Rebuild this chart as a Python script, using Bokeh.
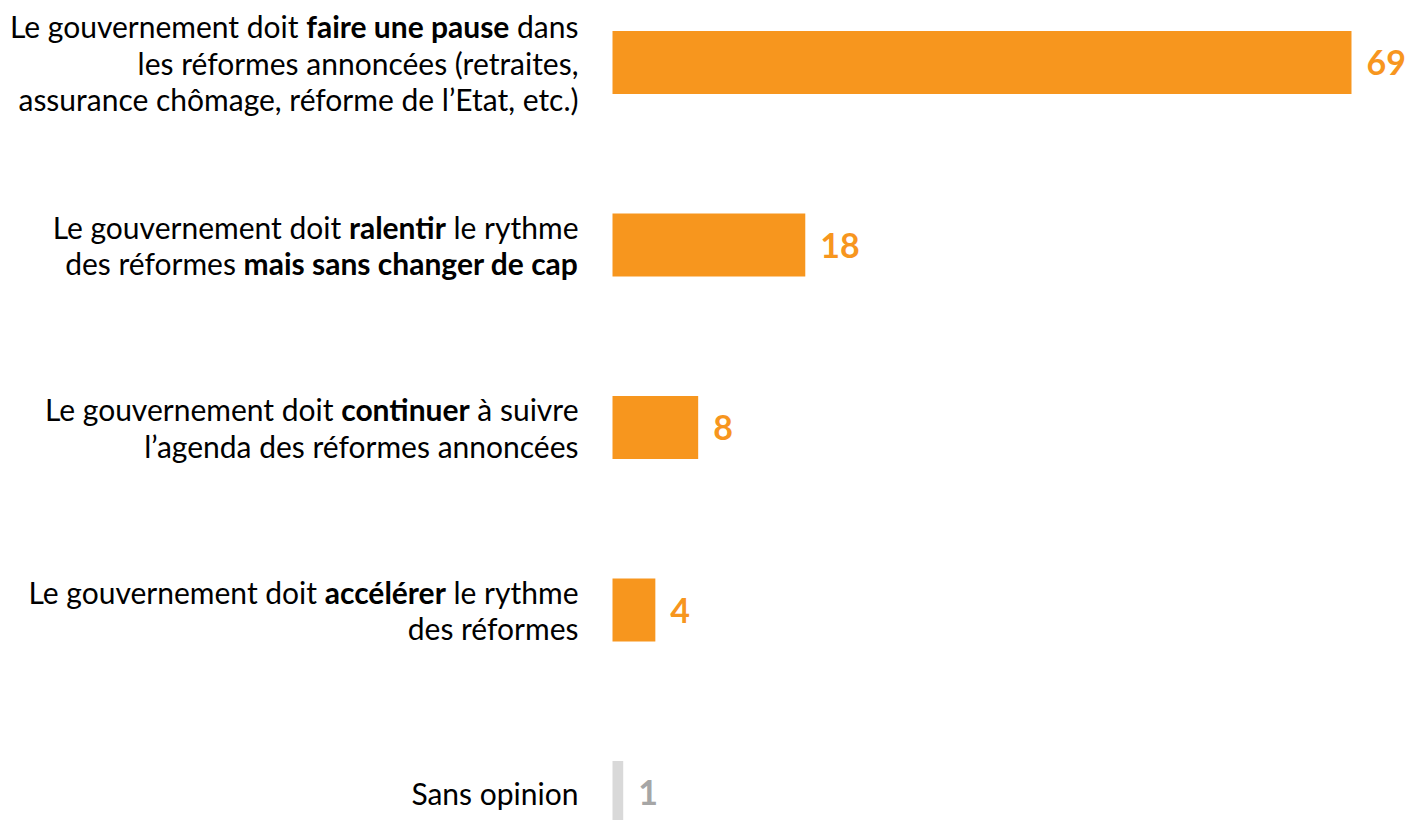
from bokeh.plotting import figure
from bokeh.models import ColumnDataSource, Range1d, CustomJS
from bokeh.core.properties import value, field
from bokeh.document import Document
from bokeh.embed import file_html
from bokeh.resources import INLINE

# ---- data ----
categories = [
    "Le gouvernement doit faire une pause dans les réformes annoncées (retraites, assurance chômage, réforme de l’Etat, etc.)",
    "Le gouvernement doit ralentir le rythme des réformes mais sans changer de cap",
    "Le gouvernement doit continuer à suivre l’agenda des réformes annoncées",
    "Le gouvernement doit accélérer le rythme des réformes",
    "Sans opinion",
]
values = [69, 18, 8, 4, 1]
value_labels = ["69", "18", "8", "4", "1"]
# label lines, each made of (text, bold) segments
label_lines = [
    [[("Le gouvernement doit", False), ("faire une pause", True), ("dans", False)],
     [("les réformes annoncées (retraites,", False)],
     [("assurance chômage, réforme de l’Etat, etc.)", False)]],
    [[("Le gouvernement doit", False), ("ralentir", True), ("le rythme", False)],
     [("des réformes", False), ("mais sans changer de cap", True)]],
    [[("Le gouvernement doit", False), ("continuer", True), ("à suivre", False)],
     [("l’agenda des réformes annoncées", False)]],
    [[("Le gouvernement doit", False), ("accélérer", True), ("le rythme", False)],
     [("des réformes", False)]],
    [[("Sans opinion", False)]],
]
bar_colors = ["#F7961E", "#F7961E", "#F7961E", "#F7961E", "#D9D9D9"]
label_colors = ["#F7961E", "#F7961E", "#F7961E", "#F7961E", "#A6A6A6"]

# ---- style constants ----
FONT = "Lato"
LBL_SIZE = 30
VAL_SIZE = 34
LINE_H = 36.5
LABEL_GAP = 34  # px between label right edge and bar start

W, H = 1405, 820
px_per_unit = 10.71
x0_px = 612
x_start = -x0_px / px_per_unit
x_end = (W - x0_px) / px_per_unit
spacing = 182.5
top_px = 62
bottom_px = H - 792
y_start = 4 + bottom_px / spacing
y_end = -top_px / spacing

p = figure(width=W, height=H, output_backend="svg", toolbar_location=None,
           x_range=Range1d(x_start, x_end), y_range=Range1d(y_start, y_end),
           min_border=0, outline_line_color=None, background_fill_color="white",
           border_fill_color="white")
p.axis.visible = False
p.grid.visible = False

idx = list(range(len(categories)))
bar_src = ColumnDataSource(dict(y=idx, right=values, color=bar_colors,
                                lab=value_labels, lcol=label_colors))
p.hbar(y="y", left=0, right="right", height=63 / spacing, color="color",
       source=bar_src, line_color=None)
p.text(x="right", y="y", text="lab", text_color="lcol", source=bar_src,
       x_offset=15, text_align="left", text_baseline="middle",
       text_font=value(FONT), text_font_style="bold",
       text_font_size=f"{VAL_SIZE}px")

# build label segments
seg = dict(x=[], y=[], text=[], weight=[], line=[], order=[], xo=[], yo=[])
line_id = 0
for ci, lines in enumerate(label_lines):
    n = len(lines)
    for li, segs in enumerate(lines):
        yo = (li - (n - 1) / 2) * LINE_H
        # estimated offsets (refined in the browser)
        off = 0.0
        est = []
        for t, b in reversed(segs):
            est.append(-LABEL_GAP - off)
            off += len(t) * LBL_SIZE * (0.5 if not b else 0.53) + LBL_SIZE * 0.25
        est = list(reversed(est))
        for si, (t, b) in enumerate(segs):
            seg["x"].append(0)
            seg["y"].append(ci)
            seg["text"].append(t)
            seg["weight"].append("bold" if b else "normal")
            seg["line"].append(line_id)
            seg["order"].append(si)
            seg["xo"].append(est[si])
            seg["yo"].append(yo)
        line_id += 1
lab_src = ColumnDataSource(seg)
p.text(x="x", y="y", text="text", source=lab_src, x_offset=field("xo"),
       y_offset=field("yo"), text_align="right", text_baseline="middle",
       text_font=value(FONT), text_font_style=field("weight"),
       text_font_size=f"{LBL_SIZE}px", text_color="#000000")

cb = CustomJS(args=dict(src=lab_src, size=LBL_SIZE, font=FONT, gap=LABEL_GAP), code="""
const c = document.createElement('canvas').getContext('2d');
const d = src.data;
const n = d.text.length;
const xo = new Array(n).fill(0);
const groups = {};
for (let i = 0; i < n; i++) { (groups[d.line[i]] = groups[d.line[i]] || []).push(i); }
c.font = 'normal ' + size + 'px ' + font;
const sp = c.measureText(' ').width;
for (const k in groups) {
  const ids = groups[k].sort((a, b) => d.order[a] - d.order[b]);
  let off = 0;
  for (let j = ids.length - 1; j >= 0; j--) {
    const i = ids[j];
    xo[i] = -gap - off;
    c.font = d.weight[i] + ' ' + size + 'px ' + font;
    off += c.measureText(d.text[i]).width + sp;
  }
}
const nd = Object.assign({}, d);
nd.xo = xo;
src.data = nd;
""")

doc = Document()
doc.add_root(p)
doc.js_on_event("document_ready", cb)

open("out.html", "w").write(file_html(p, INLINE))
